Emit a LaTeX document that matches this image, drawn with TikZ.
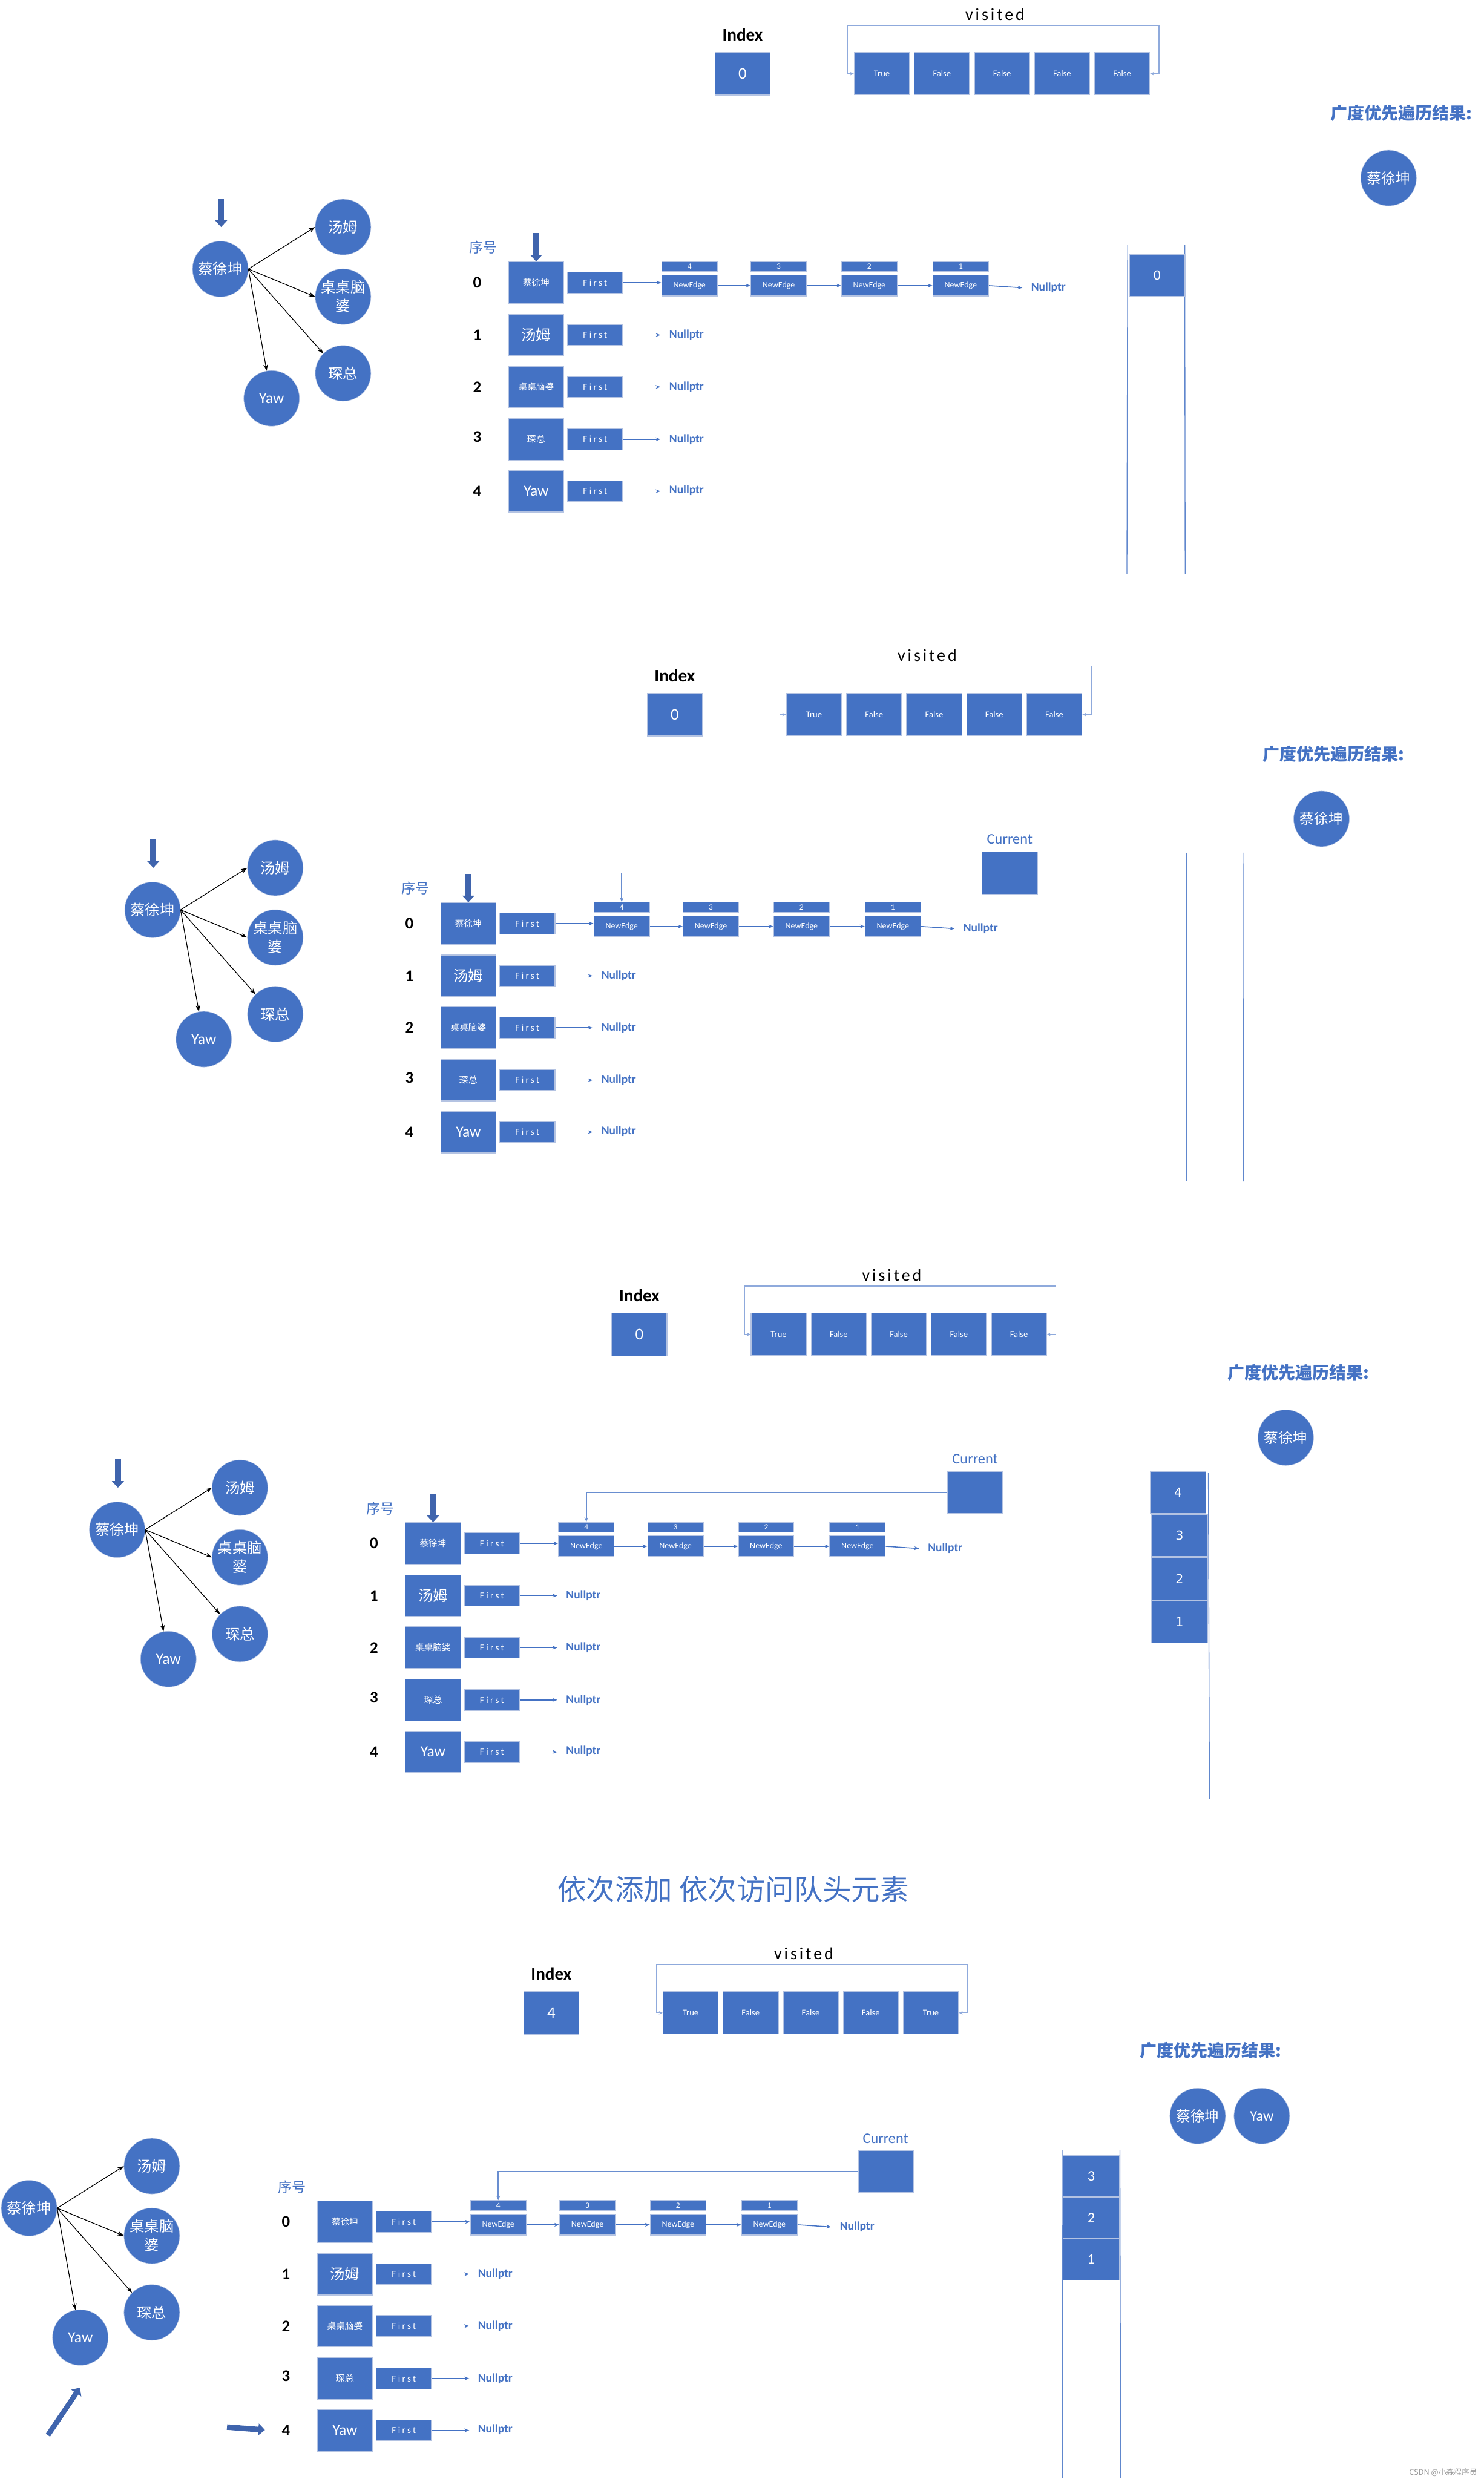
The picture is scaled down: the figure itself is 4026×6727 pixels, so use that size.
\documentclass[tikz,border=0pt]{standalone}
\usepackage{fontspec}
\setmainfont{Carlito}
\newfontfamily\cjk{Noto Sans CJK SC}
\newfontfamily\spacedv[LetterSpace=14]{Carlito}
\newfontfamily\spacedf[LetterSpace=22]{Carlito}
\newfontfamily\dejav{DejaVu Sans}
\usetikzlibrary{arrows.meta}
\definecolor{mainblue}{HTML}{4472C4}
\definecolor{darkblue}{HTML}{3F64AD}
\definecolor{edgeline}{HTML}{B4C3E2}
\definecolor{lightline}{HTML}{8FAADC}
\definecolor{wmgray}{HTML}{9A9A9A}
\tikzset{
  bbox/.style={draw=edgeline, line width=2pt, fill=mainblue, text=white, inner sep=0pt, align=center},
  vbox/.style={minimum width=150pt, minimum height=115pt, font=\fontsize{24}{26}\selectfont},
  vxbox/.style={minimum width=150pt, minimum height=113pt},
  firstbox/.style={minimum width=150pt, minimum height=57pt, font=\spacedf\fontsize{25}{26}\selectfont},
  nebox/.style={minimum width=151pt, minimum height=56pt, font=\fontsize{23}{24}\selectfont},
  elbox/.style={minimum width=151pt, minimum height=27pt, font=\fontsize{22}{22}\selectfont},
  circ/.style={circle, fill=mainblue, draw=edgeline, line width=1pt, minimum size=151pt, inner sep=0pt, text=white, align=center},
  link/.style={mainblue, line width=2.5pt, -{Stealth[length=13pt,width=10pt]}},
  gedge/.style={black, line width=2pt, -{Stealth[length=17pt,width=12pt]}},
  bigarrow/.style={darkblue, line width=16pt, -{Triangle[length=18pt,width=32pt]}},
  bracket/.style={lightline, line width=2pt, {Stealth[length=10pt,width=9pt]}-{Stealth[length=10pt,width=9pt]}},
  qline/.style={mainblue!85, line width=2.2pt},
  curlink/.style={mainblue!80, line width=2.5pt, -{Stealth[length=12pt,width=10pt]}},
  nulltxt/.style={text=mainblue, font=\bfseries\fontsize{32}{34}\selectfont, inner sep=0pt, outer sep=24pt},
  rownum/.style={font=\bfseries\fontsize{44}{46}\selectfont},
  restitle/.style={text=mainblue, font=\cjk\bfseries\fontsize{46}{50}\selectfont},
  curlbl/.style={text=mainblue, font=\fontsize{40}{42}\selectfont},
  qbox/.style={minimum width=151pt, minimum height=114pt, font=\dejav\fontsize{34}{36}\selectfont},
  curbox/.style={minimum width=150pt, minimum height=114pt},
}
\newcommand{\drawpanel}[5]{%
\begin{scope}[shift={#2}, name prefix=#1-]
  % Index and visited
  \node[font=\bfseries\fontsize{48}{50}\selectfont] (idxlbl) at (2015,94) {Index};
  \node[bbox, minimum width=150pt, minimum height=116pt, font=\fontsize{44}{46}\selectfont] (idx) at (2015,200) {#3};
  \node[font=\spacedv\fontsize{46}{50}\selectfont] (vlbl) at (2700,39) {visited};
  \node[bbox,vbox] (v1) at (2393,200) {True};
  \node[bbox,vbox] (v2) at (2556,200) {False};
  \node[bbox,vbox] (v3) at (2719,200) {False};
  \node[bbox,vbox] (v4) at (2882,200) {False};
  \node[bbox,vbox] (v5) at (3045,200) {#4};
  \draw[bracket] (v1.west) -| (2300,69) -| (3145,200) -- (v5.east);
  % graph
  \node[circ, font=\cjk\fontsize{40}{48}\selectfont] (c0) at (598,730) {蔡徐坤};
  \node[circ, font=\cjk\fontsize{40}{48}\selectfont] (c1) at (931,616) {汤姆};
  \node[circ, font=\cjk\fontsize{40}{51}\selectfont] (c2) at (931,805) {桌桌脑\\婆};
  \node[circ, font=\cjk\fontsize{40}{48}\selectfont] (c3) at (931,1013) {琛总};
  \node[circ, font=\fontsize{42}{44}\selectfont] (c4) at (737,1081) {Yaw};
  \draw[gedge] (c0.east) -- (c1.west);
  \draw[gedge] (c0.east) -- (c2.west);
  \draw[gedge] (c0.east) -- (c3.north west);
  \draw[gedge] (c0.east) -- (c4.100);
  % adjacency list
  \node[text=mainblue, font=\cjk\fontsize{38}{40}\selectfont] (seq) at (1312,672) {序号};
  \node[rownum] (r0) at (1295,767) {0};
  \node[rownum] (r1) at (1295,909) {1};
  \node[rownum] (r2) at (1295,1050) {2};
  \node[rownum] (r3) at (1295,1186) {3};
  \node[rownum] (r4) at (1295,1333) {4};
  \node[bbox,vxbox,font=\cjk\fontsize{24}{26}\selectfont] (vx0) at (1455,767) {蔡徐坤};
  \node[bbox,vxbox,font=\cjk\fontsize{40}{44}\selectfont] (vx1) at (1455,909) {汤姆};
  \node[bbox,vxbox,font=\cjk\fontsize{24}{26}\selectfont] (vx2) at (1455,1050) {桌桌脑婆};
  \node[bbox,vxbox,font=\cjk\fontsize{25}{26}\selectfont] (vx3) at (1455,1192) {琛总};
  \node[bbox,vxbox,font=\fontsize{42}{44}\selectfont] (vx4) at (1455,1333) {Yaw};
  \foreach \k/\y in {0/767,1/909,2/1050,3/1192,4/1333}
    \node[bbox,firstbox] (fb\k) at (1615,\y) {First};
  \foreach \k/\x in {4/1871,3/2113,2/2359,1/2607} {
    \node[bbox,elbox] (el\k) at (\x,723) {\k};
    \node[bbox,nebox] (ne\k) at (\x,775) {NewEdge};
  }
  \draw[link] (fb0.east) -- (fb0.east -| ne4.west);
  \draw[link] (ne4.east) -- (ne3.west);
  \draw[link] (ne3.east) -- (ne2.west);
  \draw[link] (ne2.east) -- (ne1.west);
  \node[nulltxt] (nl0) at (2845,781) {Nullptr};
  \draw[link] (ne1.east) -- (nl0.west);
  \foreach \k/\y in {1/909,2/1050,3/1192,4/1330} {
    \node[nulltxt] (nl\k) at (1863,\y) {Nullptr};
    \draw[link] (fb\k.east) -- (fb\k.east -| nl\k.west);
  }
  \ifnum#5=1
    \coordinate (ga) at (600,539);
    \coordinate (gb) at (600,616);
    \draw[bigarrow] (ga) -- (gb);
    \coordinate (aa) at (1455,633);
    \draw[bigarrow, line width=15pt] (aa) -- (vx0.north);
  \fi
\end{scope}}

\begin{document}
\begin{tikzpicture}[x=1pt,y=-1pt]
\fill[white] (0,0) rectangle (4026,6727);
\path[use as bounding box] (0,0) rectangle (4026,6727);

\drawpanel{p1}{(0,0)}{0}{False}{1}
\drawpanel{p2}{(-184,1739)}{0}{False}{1}
\drawpanel{p3}{(-280,3421)}{0}{False}{1}
\drawpanel{p4}{(-519,5262)}{4}{True}{0}

% ---------- panel 1 specifics ----------
\draw[qline] (3060,665) -- (3058,1558);
\draw[qline] (3215,665) -- (3216,1558);
\node[bbox,qbox] (p1-q0) at (3140,747) {0};
\node[restitle] (p1-rt) at (3803,307) {广度优先遍历结果:};
\node[circ, font=\cjk\fontsize{39}{44}\selectfont] (p1-r1) at (3768,483) {蔡徐坤};

% ---------- panel 2 specifics ----------
\draw[qline] (3219,2314) -- (3219,3206);
\draw[qline] (3373,2314) -- (3374,3206);
\node[bbox,curbox] (p2-cur) at (2740,2369) {};
\node[curlbl] (p2-curl) at (2740,2278) {Current};
\draw[curlink] (p2-cur.west) -| (p2-el4.north);
\node[restitle] (p2-rt) at (3619,2046) {广度优先遍历结果:};
\node[circ, font=\cjk\fontsize{39}{44}\selectfont] (p2-r1) at (3586,2222) {蔡徐坤};

% ---------- panel 3 specifics ----------
\draw[qline] (3123,3996) -- (3123,4882);
\draw[qline] (3279,3996) -- (3282,4882);
\node[bbox,qbox] (p3-q4) at (3197,4050) {4};
\node[bbox,qbox] (p3-q3) at (3201,4167) {3};
\node[bbox,qbox] (p3-q2) at (3201,4284) {2};
\node[bbox,qbox] (p3-q1) at (3201,4401) {1};
\node[bbox,curbox] (p3-cur) at (2646,4050) {};
\node[curlbl] (p3-curl) at (2646,3959) {Current};
\draw[curlink] (p3-cur.west) -| (p3-el4.north);
\node[restitle] (p3-rt) at (3524,3725) {广度优先遍历结果:};
\node[circ, font=\cjk\fontsize{39}{44}\selectfont] (p3-r1) at (3489,3901) {蔡徐坤};

% ---------- panel 4 specifics ----------
\node[text=mainblue, font=\cjk\fontsize{78}{84}\selectfont] (title) at (1990,5126) {依次添加 依次访问队头元素};
\draw[qline] (2884,5835) -- (2883,6724);
\draw[qline] (3039,5835) -- (3041,6724);
\node[bbox,qbox,minimum width=153pt,minimum height=113pt,font=\fontsize{40}{42}\selectfont] (p4-q3) at (2961,5905) {3};
\node[bbox,qbox,minimum width=153pt,minimum height=113pt,font=\fontsize{40}{42}\selectfont] (p4-q2) at (2961,6018) {2};
\node[bbox,qbox,minimum width=153pt,minimum height=113pt,font=\fontsize{40}{42}\selectfont] (p4-q1) at (2961,6131) {1};
\node[bbox,curbox] (p4-cur) at (2405,5893) {};
\node[curlbl] (p4-curl) at (2403,5803) {Current};
\draw[curlink] (p4-cur.west) -| (p4-el4.north);
\node[restitle] (p4-rt) at (3286,5564) {广度优先遍历结果:};
\node[circ, font=\cjk\fontsize{39}{44}\selectfont] (p4-r1) at (3250,5742) {蔡徐坤};
\node[circ, font=\fontsize{40}{44}\selectfont] (p4-r2) at (3424,5742) {Yaw};
\coordinate (p4-da) at (130,6608);
\coordinate (p4-db) at (217,6479);
\draw[bigarrow, line width=14pt] (p4-da) -- (p4-db);
\coordinate (p4-ha) at (616,6586);
\coordinate (p4-hb) at (719,6594);
\draw[bigarrow, line width=15pt] (p4-ha) -- (p4-hb);

% watermark
\node[text=wmgray, font=\cjk\fontsize{21}{24}\selectfont, anchor=east] (wm) at (4012,6709) {CSDN @小森程序员};
\end{tikzpicture}
\end{document}
